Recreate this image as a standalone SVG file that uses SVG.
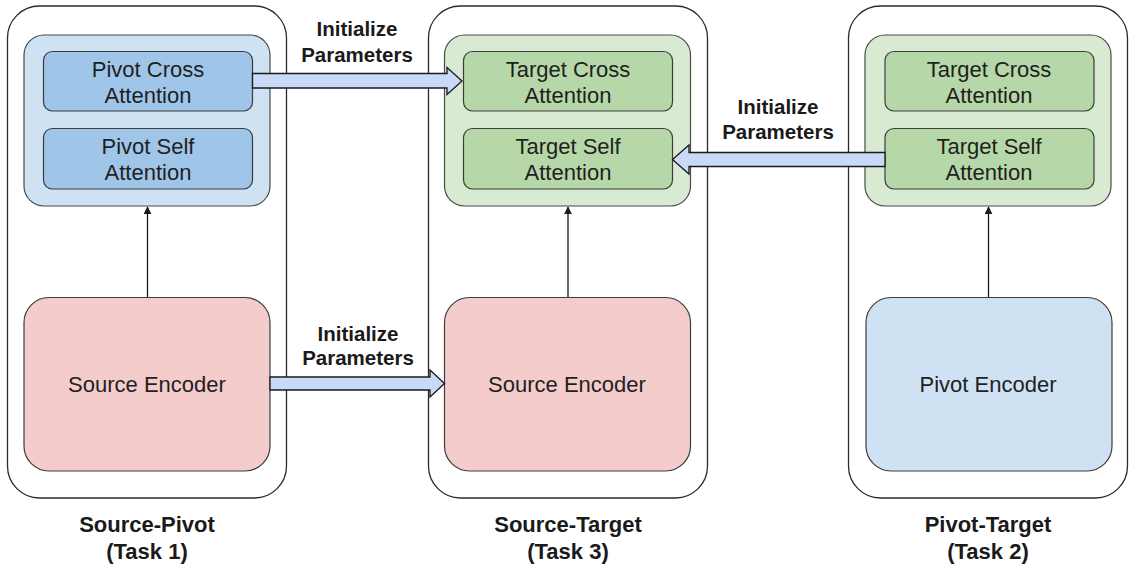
<svg xmlns="http://www.w3.org/2000/svg" width="1130" height="568" viewBox="0 0 1130 568">
<defs>
<style>
.outer{fill:#ffffff;stroke:#2b2b2b;stroke-width:1.3}
.inB{fill:#cfe2f3;stroke:#4a4a4a;stroke-width:1.2}
.inG{fill:#d9ead3;stroke:#4a4a4a;stroke-width:1.2}
.boxB{fill:#9fc5e8;stroke:#3c3c3c;stroke-width:1.2}
.boxG{fill:#b6d7a8;stroke:#3c3c3c;stroke-width:1.2}
.enc{fill:#f4cccc;stroke:#3c3c3c;stroke-width:1.2}
.encB{fill:#cfe2f3;stroke:#3c3c3c;stroke-width:1.2}
.t{font-family:"Liberation Sans",Arial,sans-serif;font-size:22px;fill:#1f1f1f;text-anchor:middle}
.lb{font-family:"Liberation Sans",Arial,sans-serif;font-size:20.5px;font-weight:bold;fill:#1a1a1a;text-anchor:middle}
.cap{font-family:"Liberation Sans",Arial,sans-serif;font-size:22px;font-weight:bold;fill:#1a1a1a;text-anchor:middle}
.blk{fill:#c9daf8;stroke:#1a1a1a;stroke-width:1.3;stroke-linejoin:miter}
.ln{stroke:#1a1a1a;stroke-width:1.3;fill:none}
</style>
<marker id="ah" viewBox="0 0 10 10" refX="9" refY="5" markerWidth="8" markerHeight="8" markerUnits="userSpaceOnUse" orient="auto">
<path d="M0,0 L10,5 L0,10 z" fill="#1a1a1a"/>
</marker>
</defs>

<g id="task1">
<rect class="outer" x="7.5" y="6" width="279" height="492" rx="32"/>
<rect class="inB" x="24" y="35" width="246" height="171" rx="20"/>
<text class="cap" x="147" y="532">Source-Pivot</text>
<text class="cap" x="147" y="559">(Task 1)</text>
</g>
<g id="pivot-cross-1">
<rect class="boxB" x="43.5" y="51.5" width="209" height="59.5" rx="9"/>
<text class="t" x="148" y="77">Pivot Cross</text>
<text class="t" x="148" y="103">Attention</text>
</g>
<g id="pivot-self-1">
<rect class="boxB" x="43.5" y="128.5" width="209" height="60.5" rx="9"/>
<text class="t" x="148" y="154">Pivot Self</text>
<text class="t" x="148" y="180">Attention</text>
</g>
<g id="source-encoder-1">
<rect class="enc" x="24" y="297.5" width="246" height="173.5" rx="25"/>
<text class="t" x="147" y="392">Source Encoder</text>
</g>

<g id="task3">
<rect class="outer" x="428.5" y="6" width="279" height="492" rx="32"/>
<rect class="inG" x="444.5" y="35" width="246" height="171" rx="20"/>
<text class="cap" x="568" y="532">Source-Target</text>
<text class="cap" x="568" y="559">(Task 3)</text>
</g>
<g id="target-cross-3">
<rect class="boxG" x="463.5" y="51.5" width="209" height="59.5" rx="9"/>
<text class="t" x="568" y="77">Target Cross</text>
<text class="t" x="568" y="103">Attention</text>
</g>
<g id="target-self-3">
<rect class="boxG" x="463.5" y="128.5" width="209" height="60.5" rx="9"/>
<text class="t" x="568" y="154">Target Self</text>
<text class="t" x="568" y="180">Attention</text>
</g>
<g id="source-encoder-3">
<rect class="enc" x="444.5" y="297.5" width="246" height="173.5" rx="25"/>
<text class="t" x="567" y="392">Source Encoder</text>
</g>

<g id="task2">
<rect class="outer" x="848.5" y="6" width="279" height="492" rx="32"/>
<rect class="inG" x="865" y="35" width="246" height="171" rx="20"/>
<text class="cap" x="988" y="532">Pivot-Target</text>
<text class="cap" x="988" y="559">(Task 2)</text>
</g>
<g id="target-cross-2">
<rect class="boxG" x="885" y="51.5" width="209" height="59.5" rx="9"/>
<text class="t" x="989" y="77">Target Cross</text>
<text class="t" x="989" y="103">Attention</text>
</g>
<g id="target-self-2">
<rect class="boxG" x="885" y="128.5" width="209" height="60.5" rx="9"/>
<text class="t" x="989" y="154">Target Self</text>
<text class="t" x="989" y="180">Attention</text>
</g>
<g id="pivot-encoder-2">
<rect class="encB" x="866" y="297.5" width="246" height="173.5" rx="25"/>
<text class="t" x="988" y="392">Pivot Encoder</text>
</g>

<g id="connectors">
<line class="ln" x1="147.5" y1="297" x2="147.5" y2="207" marker-end="url(#ah)"/>
<line class="ln" x1="568" y1="297" x2="568" y2="207" marker-end="url(#ah)"/>
<line class="ln" x1="988.5" y1="297" x2="988.5" y2="207" marker-end="url(#ah)"/>
<polygon class="blk" points="252.5,73.5 447,73.5 447,67.5 462,81 447,94.5 447,88 252.5,88"/>
<polygon class="blk" points="885,152.5 689,152.5 689,145 672.5,159.5 689,174 689,166.5 885,166.5"/>
<polygon class="blk" points="270,377 430,377 430,370 444.5,383.5 430,397 430,390 270,390"/>
<text class="lb" x="357" y="36">Initialize</text>
<text class="lb" x="357" y="62">Parameters</text>
<text class="lb" x="778" y="114">Initialize</text>
<text class="lb" x="778" y="139">Parameters</text>
<text class="lb" x="358" y="341">Initialize</text>
<text class="lb" x="358" y="365">Parameters</text>
</g>
</svg>
